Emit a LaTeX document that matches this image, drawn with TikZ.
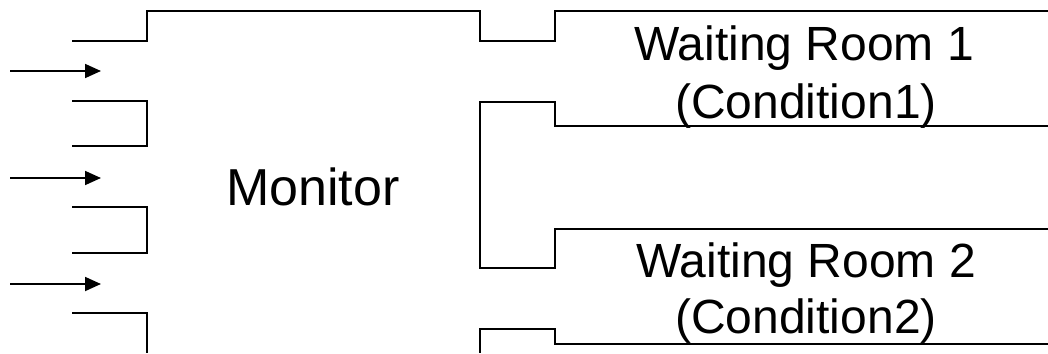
\documentclass[tikz,border=0pt]{standalone}
\usepackage{fontspec}
\setmainfont{Liberation Sans}
\usetikzlibrary{arrows.meta}
\begin{document}
\begin{tikzpicture}[x=1pt,y=-1pt,
  wall/.style={line width=1.8pt,line join=miter},
  inflow/.style={line width=1.8pt,-{Triangle[length=16pt,width=14pt]}},
  label/.style={font=\fontsize{48}{50}\selectfont,anchor=base,inner sep=0pt}]
\useasboundingbox (0,0) rectangle (1048,353);

% monitor outline, upper edge with the entry slots
\draw[wall] (72,41) -- (147,41) -- (147,11) -- (480,11) -- (480,41)
  -- (555,41) -- (555,11) -- (1048,11);
% left entry boxes
\draw[wall] (72,101) -- (147,101) -- (147,146) -- (72,146);
\draw[wall] (72,207) -- (147,207) -- (147,253) -- (72,253);
\draw[wall] (72,313) -- (147,313) -- (147,353);
% right side: waiting room walls
\draw[wall] (1048,126) -- (555,126) -- (555,102) -- (480,102) -- (480,268)
  -- (555,268) -- (555,229) -- (1048,229);
\draw[wall] (1048,344) -- (555,344) -- (555,329) -- (480,329) -- (480,353);

% incoming arrows
\coordinate (s1) at (10,71);  \coordinate (e1) at (101,71);
\coordinate (s2) at (10,178); \coordinate (e2) at (101,178);
\coordinate (s3) at (10,284); \coordinate (e3) at (101,284);
\draw[inflow] (s1) -- (e1);
\draw[inflow] (s2) -- (e2);
\draw[inflow] (s3) -- (e3);

% labels
\node[label,font=\fontsize{52}{54}\selectfont] (mon) at (313,205) {Monitor};
\node[label] (wr1) at (804,60) {Waiting Room 1};
\node[label] (c1) at (806,118) {(Condition1)};
\node[label] (wr2) at (806,277) {Waiting Room 2};
\node[label] (c2) at (806,333) {(Condition2)};
\end{tikzpicture}
\end{document}
